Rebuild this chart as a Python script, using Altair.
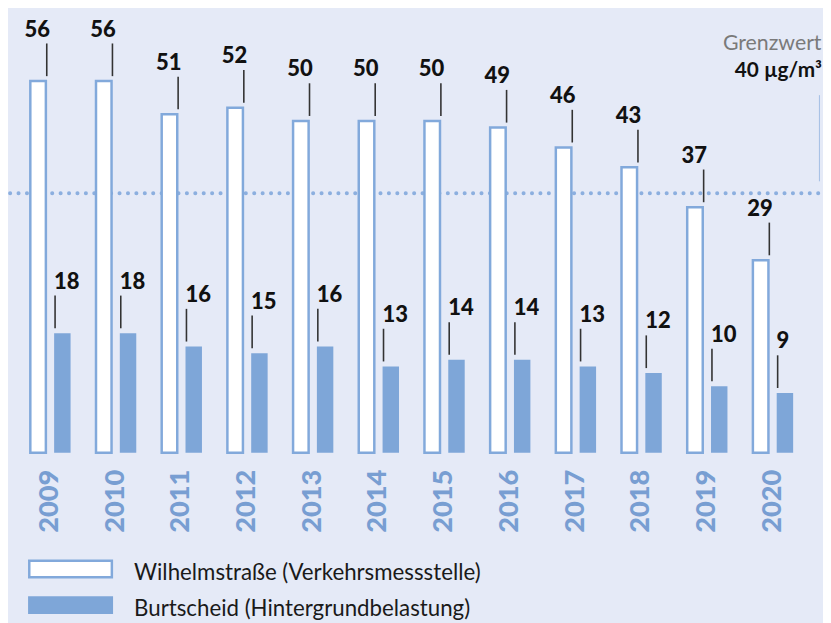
import altair as alt
import pandas as pd

years = ["2009", "2010", "2011", "2012", "2013", "2014", "2015", "2016", "2017", "2018", "2019", "2020"]
wilhelm = [56, 56, 51, 52, 50, 50, 50, 49, 46, 43, 37, 29]
burtscheid = [18, 18, 16, 15, 16, 13, 14, 14, 13, 12, 10, 9]
series = ["Wilhelmstraße (Verkehrsmessstelle)", "Burtscheid (Hintergrundbelastung)"]
limit_value = [40]
limit_text = ["Grenzwert", "40 µg/m³"]

BG = "#e5eaf7"
BLUE = "#7ea6d8"
STROKE = "#82a9db"
YEARCOL = "#789ed2"
FONT = "Lato"

# layout helpers (page is a little wider than the window and gets fitted horizontally)
S = 839 / 831
PADL = 9.32
PW = 796.0
PADR = 823 - PADL - PW
PH = 454 - 8
CH = 615
PADB = CH - PH


def ux(r):
    return r * S - 8 - PADL


def uy(r):
    return r - 8


YMAX = PH / 6.7

df_w = pd.DataFrame({"year": years, "value": wilhelm})
df_b = pd.DataFrame({"year": years, "value": burtscheid})
df_lim = pd.DataFrame({"value": limit_value})
df_lim_text1 = pd.DataFrame({"t": [limit_text[0]]})
df_lim_text2 = pd.DataFrame({"t": [limit_text[1]]})
df_leg1 = pd.DataFrame({"s": [series[0]]})
df_leg2 = pd.DataFrame({"s": [series[1]]})

x = alt.X("year:N", sort=years, axis=None,
          scale=alt.Scale(paddingInner=0, paddingOuter=0))
y = alt.Y("value:Q", axis=None,
          scale=alt.Scale(domain=[0, YMAX], nice=False, zero=True))

lim_off = uy(192) - PH * (1 - 40 / YMAX)

limit_rule = alt.Chart(df_lim).mark_rule(
    color="#8cafdf", strokeWidth=4, strokeDash=[0.1, 8.4], strokeCap="round", yOffset=lim_off
).encode(y=y, x=alt.value(ux(10)), x2=alt.value(ux(826)))

limit_vline = alt.Chart(df_lim).mark_rule(color="#a3bde4", strokeWidth=1).encode(
    x=alt.value(ux(819.5)), y=alt.value(uy(93)), y2=alt.value(uy(180)))

limit_t1 = alt.Chart(df_lim_text1).mark_text(
    font=FONT, fontSize=21.5, color="#7a7a7a", align="right", baseline="alphabetic"
).encode(x=alt.value(PW + PADR - 1.5), y=alt.value(uy(47)), text="t:N")

limit_t2 = alt.Chart(df_lim_text2).mark_text(
    font=FONT, fontSize=21, fontWeight="bold", color="#111111", align="right", baseline="alphabetic"
).encode(x=alt.value(PW + PADR - 1), y=alt.value(uy(75)), text="t:N")

bars_w = alt.Chart(df_w).mark_bar(
    width=15.7, xOffset=-12.1, fill="white", stroke=STROKE, strokeWidth=2.5
).encode(x=x, y=y)

bars_b = alt.Chart(df_b).mark_bar(width=16.6, xOffset=12.4, fill=BLUE).encode(x=x, y=y)

lead_w = alt.Chart(df_w).mark_rule(
    color="#333333", strokeWidth=1.6, xOffset=-3.35, yOffset=-5, y2Offset=-38
).encode(x=x, y=y, y2=alt.Y2("value:Q"))

lead_b = alt.Chart(df_b).mark_rule(
    color="#333333", strokeWidth=1.6, xOffset=5.05, yOffset=-5, y2Offset=-38
).encode(x=x, y=y, y2=alt.Y2("value:Q"))

lab_w = alt.Chart(df_w).mark_text(
    font=FONT, fontSize=22.2, fontWeight=900, color="#111111", align="right",
    baseline="alphabetic", xOffset=0, yOffset=-45
).encode(x=x, y=y, text="value:Q")

lab_b = alt.Chart(df_b).mark_text(
    font=FONT, fontSize=22.2, fontWeight=900, color="#111111", align="left",
    baseline="alphabetic", xOffset=4, yOffset=-45
).encode(x=x, y=y, text="value:Q")

year_lab = alt.Chart(df_w).mark_text(
    font=FONT, fontSize=27.5, fontWeight=900, color=YEARCOL, angle=270,
    align="left", baseline="middle"
).encode(x=x, y=alt.value(uy(535)), text="year:N")

leg_r1 = alt.Chart(df_leg1).mark_rect(fill="white", stroke=STROKE, strokeWidth=2.5).encode(
    x=alt.value(ux(29.2)), x2=alt.value(ux(111.8)), y=alt.value(uy(563.2)), y2=alt.value(uy(579.8)))
leg_r2 = alt.Chart(df_leg2).mark_rect(fill=BLUE).encode(
    x=alt.value(ux(28)), x2=alt.value(ux(113)), y=alt.value(uy(599)), y2=alt.value(uy(617)))
leg_t1 = alt.Chart(df_leg1).mark_text(
    font=FONT, fontSize=22.5, color="#1a1a1a", align="left", baseline="alphabetic"
).encode(x=alt.value(ux(134)), y=alt.value(uy(583)), text="s:N")
leg_t2 = alt.Chart(df_leg2).mark_text(
    font=FONT, fontSize=22.5, color="#1a1a1a", align="left", baseline="alphabetic"
).encode(x=alt.value(ux(134)), y=alt.value(uy(619)), text="s:N")

chart = alt.layer(
    limit_rule, limit_vline, limit_t1, limit_t2,
    bars_w, bars_b, lead_w, lead_b, lab_w, lab_b, year_lab,
    leg_r1, leg_r2, leg_t1, leg_t2
).properties(
    width=PW, height=PH,
    padding={"left": PADL, "top": 0, "right": PADR, "bottom": PADB},
    autosize=alt.AutoSizeParams(type="none"),
    background=BG,
).configure_view(stroke=None)

chart.save("out.html", embed_options={"renderer": "svg", "actions": False})
